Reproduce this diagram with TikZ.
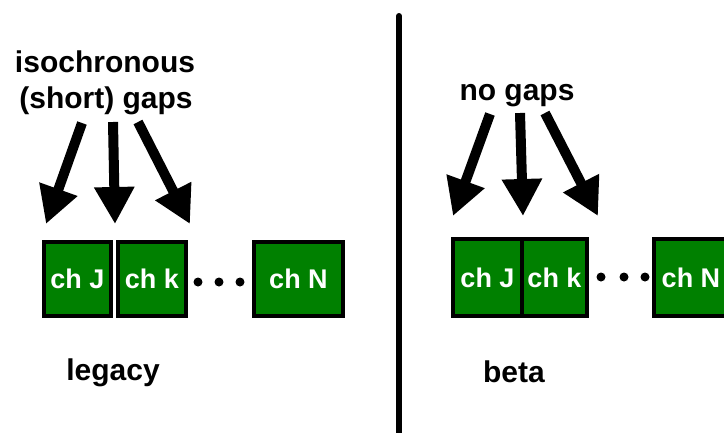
\documentclass[tikz,border=0pt]{standalone}
\usepackage{fontspec}
\setmainfont{Liberation Sans}
\usetikzlibrary{arrows.meta}
\definecolor{chgreen}{RGB}{0,128,0}

\begin{document}
\begin{tikzpicture}[x=1pt, y=-1pt,
    chan/.style={draw, line width=4pt, fill=chgreen, text=white, inner sep=0pt,
                 font=\bfseries\fontsize{27}{30}\selectfont},
    big text/.style={anchor=base, font=\bfseries\fontsize{30}{36}\selectfont},
    gap arrow/.style={line width=10pt, -{Triangle[length=37pt,width=38pt]}},
    dot/.style={circle, fill, inner sep=0pt, minimum size=9pt}]
  \useasboundingbox (0,0) rectangle (724,432);

  % legacy: channels with short gaps
  \node[chan, minimum width=67pt, minimum height=74pt] (J1) at (77.5,279) {ch J};
  \node[chan, minimum width=68pt, minimum height=74pt] (k1) at (152,279) {ch k};
  \node[chan, minimum width=89pt, minimum height=74pt] (N1) at (298.5,279) {ch N};
  \foreach \x [count=\i] in {198,219,240}
    \node[dot] (dl\i) at (\x,282) {};
  \node[big text] (iso) at (105,72) {isochronous};
  \node[big text] (short) at (106,108) {(short) gaps};
  \node[big text] (legacy) at (113,380) {legacy};
  \coordinate (la1) at (82,123);  \coordinate (lt1) at (46,224);
  \coordinate (la2) at (113,122); \coordinate (lt2) at (115,224);
  \coordinate (la3) at (138,122); \coordinate (lt3) at (190,224);
  \foreach \i in {1,2,3}
    \draw[gap arrow] (la\i) -- (lt\i);

  % divider
  \coordinate (top) at (399,16);
  \coordinate (bottom) at (399,440);
  \draw[line width=6pt, line cap=round] (top) -- (bottom);

  % beta: channels back to back
  \node[chan, minimum width=69pt, minimum height=77pt] (J2) at (487.5,277.5) {ch J};
  \node[chan, minimum width=65pt, minimum height=77pt] (k2) at (554.5,277.5) {ch k};
  \node[chan, minimum width=74pt, minimum height=77pt] (N2) at (691,277.5) {ch N};
  \foreach \x [count=\i] in {601,624,645}
    \node[dot] (dr\i) at (\x,277) {};
  \node[big text] (nogaps) at (517,100) {no gaps};
  \node[big text] (beta) at (514,382) {beta};
  \coordinate (ra1) at (490,114); \coordinate (rt1) at (453,216);
  \coordinate (ra2) at (520,113); \coordinate (rt2) at (523,216);
  \coordinate (ra3) at (545,113); \coordinate (rt3) at (598,216);
  \foreach \i in {1,2,3}
    \draw[gap arrow] (ra\i) -- (rt\i);
\end{tikzpicture}
\end{document}
